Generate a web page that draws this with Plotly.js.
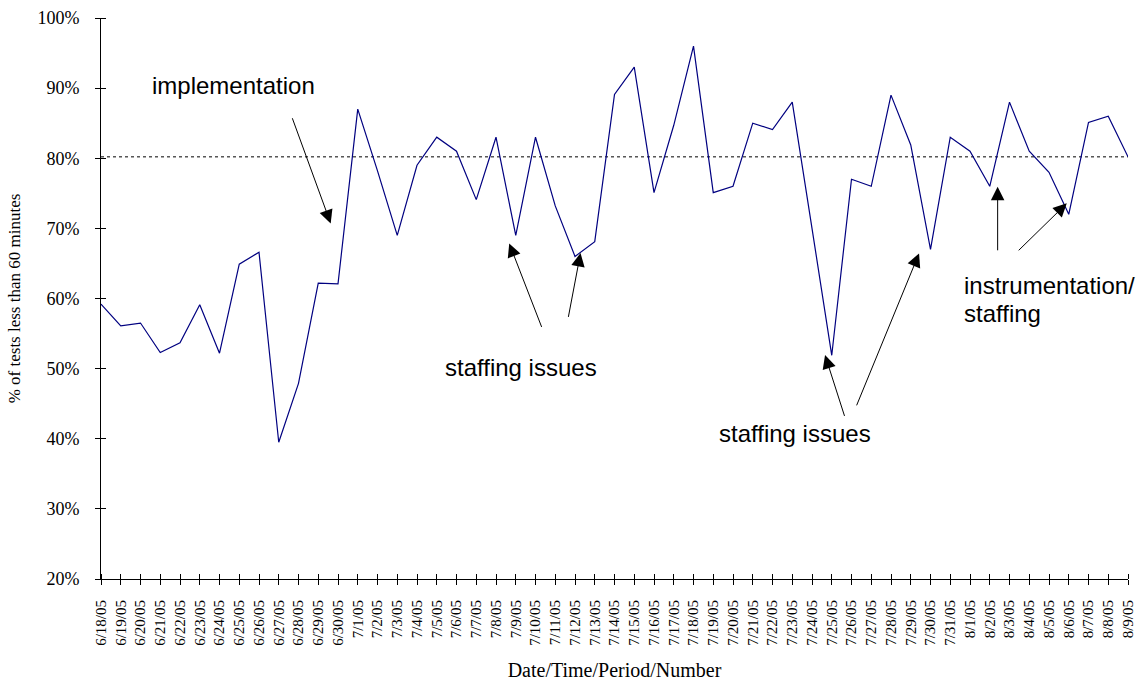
<!DOCTYPE html>
<html>
<head>
<meta charset="utf-8">
<script src="https://cdn.plot.ly/plotly-3.0.1.min.js"></script>
<style>
  html, body { margin: 0; padding: 0; background: #ffffff; }
  #chart { width: 1138px; height: 681px; }
</style>
</head>
<body>
<div id="chart"></div>
<script>
// ---- data ----
var dateLabels = [
  "6/18/05","6/19/05","6/20/05","6/21/05","6/22/05","6/23/05","6/24/05","6/25/05","6/26/05","6/27/05",
  "6/28/05","6/29/05","6/30/05","7/1/05","7/2/05","7/3/05","7/4/05","7/5/05","7/6/05","7/7/05",
  "7/8/05","7/9/05","7/10/05","7/11/05","7/12/05","7/13/05","7/14/05","7/15/05","7/16/05","7/17/05",
  "7/18/05","7/19/05","7/20/05","7/21/05","7/22/05","7/23/05","7/24/05","7/25/05","7/26/05","7/27/05",
  "7/28/05","7/29/05","7/30/05","7/31/05","8/1/05","8/2/05","8/3/05","8/4/05","8/5/05","8/6/05",
  "8/7/05","8/8/05","8/9/05"
];
var pctUnder60 = [
  59.2, 56.1, 56.5, 52.3, 53.7, 59.1, 52.2, 64.9, 66.6, 39.5,
  47.9, 62.2, 62.1, 87.0, 78.2, 69.0, 79.0, 83.0, 81.0, 74.1,
  83.0, 69.0, 83.0, 73.2, 66.0, 68.1, 89.1, 93.0, 75.1, 84.7,
  96.0, 75.1, 76.0, 85.0, 84.1, 88.0, 70.0, 51.9, 77.0, 76.0,
  89.0, 81.9, 67.0, 83.0, 81.0, 76.0, 88.0, 81.0, 78.0, 72.0,
  85.1, 86.0, 80.2
];
var targetLevel = 80.2;
var yTickValues = [20, 30, 40, 50, 60, 70, 80, 90, 100];
var yTickLabels = ["20%", "30%", "40%", "50%", "60%", "70%", "80%", "90%", "100%"];

// annotation texts
var noteTexts = ["implementation", "staffing issues", "staffing issues", "instrumentation/", "staffing"];

var xIndex = dateLabels.map(function (d, i) { return i; });

var serif = "'Liberation Serif', 'Times New Roman', Times, serif";
var sans = "'Liberation Sans', Arial, Helvetica, sans-serif";

var trace = {
  x: xIndex,
  y: pctUnder60,
  type: "scatter",
  mode: "lines",
  line: { color: "#000080", width: 1.2 },
  hoverinfo: "skip",
  showlegend: false
};

function arrow(tx, ty, sx, sy) {
  return {
    x: tx, y: ty, ax: sx, ay: sy,
    xref: "x", yref: "y", axref: "x", ayref: "y",
    text: "", showarrow: true,
    arrowhead: 2, arrowsize: 2.7, arrowwidth: 1, arrowcolor: "#000000",
    standoff: 0
  };
}
function label(txt, x, y, anchor) {
  return {
    x: x, y: y, xref: "x", yref: "y",
    text: txt, showarrow: false,
    xanchor: anchor || "center", yanchor: "middle",
    font: { family: sans, size: 24, color: "#000000" }
  };
}

var annotations = [
  label(noteTexts[0], 6.70, 90.4),
  label(noteTexts[1], 21.29, 50.2),
  label(noteTexts[2], 35.16, 40.8),
  label(noteTexts[3], 43.59, 61.9, "left"),
  label(noteTexts[4], 43.59, 57.8, "left"),
  arrow(11.63, 70.71, 9.66, 85.92),
  arrow(20.67, 67.86, 22.34, 55.73),
  arrow(24.28, 66.48, 23.65, 57.16),
  arrow(36.66, 51.93, 37.67, 43.04),
  arrow(41.42, 66.43, 38.23, 44.55),
  arrow(45.40, 75.93, 45.40, 66.66),
  arrow(48.90, 73.57, 46.39, 66.66)
];

var layout = {
  width: 1138,
  height: 681,
  margin: { l: 101, r: 10, t: 18, b: 102 },
  paper_bgcolor: "#ffffff",
  plot_bgcolor: "#ffffff",
  showlegend: false,
  xaxis: {
    type: "linear",
    range: [0, dateLabels.length - 1],
    tickmode: "array",
    tickvals: xIndex,
    ticktext: dateLabels,
    tickangle: -90,
    ticks: "outside",
    ticklen: 5,
    tickwidth: 1,
    tickcolor: "#000000",
    minor: { ticks: "inside", ticklen: 5, tickwidth: 1, tickcolor: "#000000", dtick: 1, tick0: 0, showgrid: false },
    ticklabelstandoff: 9,
    tickfont: { family: serif, size: 15, color: "#000000" },
    showline: true,
    linecolor: "#000000",
    linewidth: 1,
    showgrid: false,
    zeroline: false,
    automargin: false,
    title: { text: "Date/Time/Period/Number", font: { family: serif, size: 20, color: "#000000" }, standoff: 18 }
  },
  yaxis: {
    range: [20, 100],
    tickmode: "array",
    tickvals: yTickValues,
    ticktext: yTickLabels,
    ticks: "outside",
    ticklen: 5,
    tickwidth: 1,
    tickcolor: "#000000",
    minor: { ticks: "inside", ticklen: 5, tickwidth: 1, tickcolor: "#000000", dtick: 10, tick0: 20, showgrid: false },
    ticklabelstandoff: 12,
    tickfont: { family: serif, size: 18, color: "#000000" },
    showline: true,
    linecolor: "#000000",
    linewidth: 1,
    showgrid: false,
    zeroline: false,
    automargin: false,
    title: { text: "% of tests less than 60 minutes", font: { family: serif, size: 17, color: "#000000" }, standoff: 12 }
  },
  shapes: [{
    type: "line", xref: "paper", yref: "y",
    x0: 0, x1: 1, y0: targetLevel, y1: targetLevel,
    line: { color: "#000000", width: 1, dash: "dot" },
    layer: "below"
  }],
  annotations: annotations
};

Plotly.newPlot("chart", [trace], layout, { displayModeBar: false, staticPlot: true });
</script>
</body>
</html>
